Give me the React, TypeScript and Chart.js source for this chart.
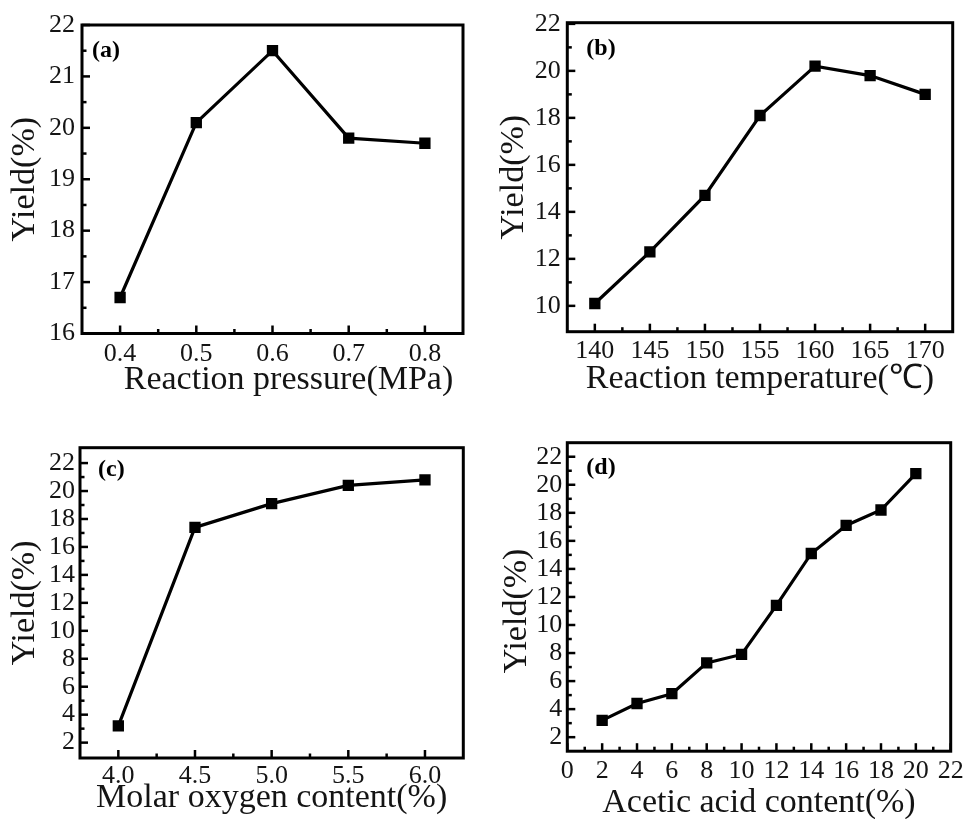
import React, { useEffect, useRef } from "react";
import { Chart, registerables } from "chart.js";

Chart.register(...registerables);

// ---------- Data ----------
// (a) Reaction pressure
const pressureValues = [0.4, 0.5, 0.6, 0.7, 0.8];
const pressureYield = [16.7, 20.1, 21.5, 19.8, 19.7];
const pressureXTicks = [0.4, 0.5, 0.6, 0.7, 0.8];
const pressureXMinor = [0.45, 0.55, 0.65, 0.75];
const pressureYTicks = [16, 17, 18, 19, 20, 21, 22];
const pressureYMinor = [16.5, 17.5, 18.5, 19.5, 20.5, 21.5];

// (b) Reaction temperature
const temperatureValues = [140, 145, 150, 155, 160, 165, 170];
const temperatureYield = [10.1, 12.3, 14.7, 18.1, 20.2, 19.8, 19.0];
const temperatureXTicks = [140, 145, 150, 155, 160, 165, 170];
const temperatureXMinor = [142.5, 147.5, 152.5, 157.5, 162.5, 167.5];
const temperatureYTicks = [10, 12, 14, 16, 18, 20, 22];
const temperatureYMinor = [11, 13, 15, 17, 19, 21];

// (c) Molar oxygen content
const oxygenValues = [4.0, 4.5, 5.0, 5.5, 6.0];
const oxygenYield = [3.2, 17.4, 19.1, 20.4, 20.8];
const oxygenXTicks = [4.0, 4.5, 5.0, 5.5, 6.0];
const oxygenXMinor = [4.25, 4.75, 5.25, 5.75];
const oxygenYTicks = [2, 4, 6, 8, 10, 12, 14, 16, 18, 20, 22];
const oxygenYMinor = [3, 5, 7, 9, 11, 13, 15, 17, 19, 21];

// (d) Acetic acid content
const acidValues = [2, 4, 6, 8, 10, 12, 14, 16, 18, 20];
const acidYield = [3.2, 4.4, 5.1, 7.3, 7.9, 11.4, 15.1, 17.1, 18.2, 20.8];
const acidXTicks = [0, 2, 4, 6, 8, 10, 12, 14, 16, 18, 20, 22];
const acidXMinor = [1, 3, 5, 7, 9, 11, 13, 15, 17, 19, 21];
const acidYTicks = [2, 4, 6, 8, 10, 12, 14, 16, 18, 20, 22];
const acidYMinor = [3, 5, 7, 9, 11, 13, 15, 17, 19, 21];

const yTitle = "Yield(%)";

// ---------- Styling / layout ----------
const FAMILY = "'Liberation Serif', 'Times New Roman', Times, serif";
const TEXT = "#141414";

type PanelCfg = {
  label: string;
  xs: number[];
  ys: number[];
  xTicks: number[];
  xMinor: number[];
  yTicks: number[];
  yMinor: number[];
  xMin: number;
  xMax: number;
  yMin: number;
  yMax: number;
  xDecimals: number;
  xTitle: string;
  xTitleShift: number;
  yTitleShift: number;
  box: { x: number; y: number; w: number; h: number; ch: number };
  plot: { l: number; t: number; r: number; b: number };
  xTickPad: number;
  yTickPad: number;
  xTitlePad: number;
  yTitlePad: number;
  labelDx: number;
  labelDy: number;
};

const panels: PanelCfg[] = [
  {
    label: "(a)",
    xs: pressureValues,
    ys: pressureYield,
    xTicks: pressureXTicks,
    xMinor: pressureXMinor,
    yTicks: pressureYTicks,
    yMinor: pressureYMinor,
    xMin: 0.35,
    xMax: 0.85,
    yMin: 16,
    yMax: 22,
    xDecimals: 1,
    xTitle: "Reaction pressure(MPa)",
    xTitleShift: 16,
    yTitleShift: 0,
    box: { x: 0, y: 0, w: 480, h: 396, ch: 420 },
    plot: { l: 82, t: 25, r: 463, b: 333.5 },
    xTickPad: 5,
    yTickPad: 7,
    xTitlePad: 19.1,
    yTitlePad: 4.6,
    labelDx: 10,
    labelDy: 32,
  },
  {
    label: "(b)",
    xs: temperatureValues,
    ys: temperatureYield,
    xTicks: temperatureXTicks,
    xMinor: temperatureXMinor,
    yTicks: temperatureYTicks,
    yMinor: temperatureYMinor,
    xMin: 137.5,
    xMax: 172.5,
    yMin: 8.9,
    yMax: 22.05,
    xDecimals: 0,
    xTitle: "Reaction temperature(\u2103)",
    xTitleShift: 0,
    yTitleShift: 0,
    box: { x: 480, y: 0, w: 484, h: 396, ch: 420 },
    plot: { l: 567.3, t: 22.7, r: 952.7, b: 331.7 },
    xTickPad: 3.7,
    yTickPad: 6.5,
    xTitlePad: 20.4,
    yTitlePad: 13.8,
    labelDx: 19,
    labelDy: 32,
  },
  {
    label: "(c)",
    xs: oxygenValues,
    ys: oxygenYield,
    xTicks: oxygenXTicks,
    xMinor: oxygenXMinor,
    yTicks: oxygenYTicks,
    yMinor: oxygenYMinor,
    xMin: 3.75,
    xMax: 6.25,
    yMin: 0.9,
    yMax: 23.1,
    xDecimals: 1,
    xTitle: "Molar oxygen content(%)",
    xTitleShift: 0,
    yTitleShift: 0,
    box: { x: 0, y: 400, w: 480, h: 419, ch: 440 },
    plot: { l: 80, t: 447.7, r: 463.3, b: 758 },
    xTickPad: 2.2,
    yTickPad: 5,
    xTitlePad: 21.1,
    yTitlePad: 4.6,
    labelDx: 18,
    labelDy: 28,
  },
  {
    label: "(d)",
    xs: acidValues,
    ys: acidYield,
    xTicks: acidXTicks,
    xMinor: acidXMinor,
    yTicks: acidYTicks,
    yMinor: acidYMinor,
    xMin: 0,
    xMax: 22,
    yMin: 1,
    yMax: 23,
    xDecimals: 0,
    xTitle: "Acetic acid content(%)",
    xTitleShift: 0,
    yTitleShift: 14,
    box: { x: 480, y: 400, w: 484, h: 419, ch: 440 },
    plot: { l: 567.3, t: 442.7, r: 950.7, b: 751.2 },
    xTickPad: 4.5,
    yTickPad: 5,
    xTitlePad: 16.1,
    yTitlePad: 17.1,
    labelDx: 19,
    labelDy: 31,
  },
];

function Panel({ cfg }: { cfg: PanelCfg }) {
  const ref = useRef<HTMLCanvasElement | null>(null);

  useEffect(() => {
    const canvas = ref.current;
    if (!canvas) return;
    const { box, plot } = cfg;

    const framePlugin = {
      id: "frameTicks",
      beforeDraw(chart: any) {
        // offset axis-title placement (titles are centred on the scale box)
        const a = chart.chartArea;
        const xs = chart.scales.x;
        const ys = chart.scales.y;
        if (cfg.xTitleShift) {
          xs.left = a.left + cfg.xTitleShift;
          xs.right = a.right + cfg.xTitleShift;
        }
        if (cfg.yTitleShift) {
          ys.top = a.top + cfg.yTitleShift;
          ys.bottom = a.bottom + cfg.yTitleShift;
        }
      },
      afterDraw(chart: any) {
        const { ctx, chartArea: a } = chart;
        const xs = chart.scales.x;
        const ys = chart.scales.y;
        ctx.save();
        ctx.strokeStyle = "#000";
        ctx.lineCap = "butt";
        ctx.lineWidth = 2.5;
        const seg = (x1: number, y1: number, x2: number, y2: number) => {
          ctx.beginPath();
          ctx.moveTo(x1, y1);
          ctx.lineTo(x2, y2);
          ctx.stroke();
        };
        cfg.xTicks.forEach((v) => {
          const px = xs.getPixelForValue(v);
          seg(px, a.bottom, px, a.bottom - 8);
        });
        cfg.xMinor.forEach((v) => {
          const px = xs.getPixelForValue(v);
          seg(px, a.bottom, px, a.bottom - 4.5);
        });
        cfg.yTicks.forEach((v) => {
          const py = ys.getPixelForValue(v);
          seg(a.left, py, a.left + 8, py);
        });
        cfg.yMinor.forEach((v) => {
          const py = ys.getPixelForValue(v);
          seg(a.left, py, a.left + 4.5, py);
        });
        ctx.lineWidth = 3;
        ctx.strokeRect(a.left, a.top, a.right - a.left, a.bottom - a.top);
        ctx.font = `bold 24px ${FAMILY}`;
        ctx.fillStyle = "#000";
        ctx.textAlign = "left";
        ctx.textBaseline = "alphabetic";
        ctx.fillText(cfg.label, a.left + cfg.labelDx, a.top + cfg.labelDy);
        ctx.restore();
      },
    };

    const chart = new Chart(canvas, {
      type: "line",
      data: {
        datasets: [
          {
            data: cfg.xs.map((x, i) => ({ x, y: cfg.ys[i] })),
            borderColor: "#000",
            backgroundColor: "#000",
            borderWidth: 3.2,
            pointStyle: "rect",
            pointRadius: 8,
            pointHoverRadius: 8,
            pointBorderWidth: 0,
            pointBackgroundColor: "#000",
            tension: 0,
            fill: false,
          },
        ],
      },
      options: {
        responsive: false,
        maintainAspectRatio: false,
        animation: false,
        events: [],
        layout: {
          padding: {
            left: 0,
            top: plot.t - box.y,
            right: box.x + box.w - plot.r,
            bottom: 0,
          },
        },
        plugins: {
          legend: { display: false },
          tooltip: { enabled: false },
        },
        scales: {
          x: {
            type: "linear",
            position: "bottom",
            min: cfg.xMin,
            max: cfg.xMax,
            grid: { display: false, drawTicks: false },
            border: { display: false },
            afterBuildTicks: (s: any) => {
              s.ticks = cfg.xTicks.map((v) => ({ value: v }));
            },
            afterFit: (s: any) => {
              s.height = box.ch - (plot.b - box.y);
              s.paddingLeft = 0;
              s.paddingRight = 0;
            },
            ticks: {
              autoSkip: false,
              maxRotation: 0,
              minRotation: 0,
              padding: cfg.xTickPad,
              color: TEXT,
              font: { family: FAMILY, size: 26 },
              callback: (v: any) => Number(v).toFixed(cfg.xDecimals),
            },
            title: {
              display: true,
              text: cfg.xTitle,
              color: TEXT,
              font: { family: FAMILY, size: 34 },
              padding: { top: 0, bottom: cfg.xTitlePad },
            },
          },
          y: {
            type: "linear",
            position: "left",
            min: cfg.yMin,
            max: cfg.yMax,
            grid: { display: false, drawTicks: false },
            border: { display: false },
            afterBuildTicks: (s: any) => {
              s.ticks = cfg.yTicks.map((v) => ({ value: v }));
            },
            afterFit: (s: any) => {
              s.width = plot.l - box.x;
              s.paddingTop = 0;
              s.paddingBottom = 0;
            },
            ticks: {
              autoSkip: false,
              padding: cfg.yTickPad,
              color: TEXT,
              font: { family: FAMILY, size: 26 },
              callback: (v: any) => String(v),
            },
            title: {
              display: true,
              text: yTitle,
              color: TEXT,
              font: { family: FAMILY, size: 34 },
              padding: { top: cfg.yTitlePad, bottom: 0 },
            },
          },
        },
      },
      plugins: [framePlugin],
    } as any);

    return () => chart.destroy();
  }, [cfg]);

  return (
    <div
      style={{
        position: "absolute",
        left: cfg.box.x,
        top: cfg.box.y,
        width: cfg.box.w,
        height: cfg.box.h,
        overflow: "hidden",
      }}
    >
      <canvas
        ref={ref}
        width={cfg.box.w}
        height={cfg.box.ch}
        style={{ display: "block", width: cfg.box.w, height: cfg.box.ch }}
      />
    </div>
  );
}

export default function App() {
  return (
    <div
      style={{
        position: "absolute",
        left: 0,
        top: 0,
        width: 964,
        height: 819,
        overflow: "hidden",
        background: "#fff",
      }}
    >
      {panels.map((p) => (
        <Panel key={p.label} cfg={p} />
      ))}
    </div>
  );
}
